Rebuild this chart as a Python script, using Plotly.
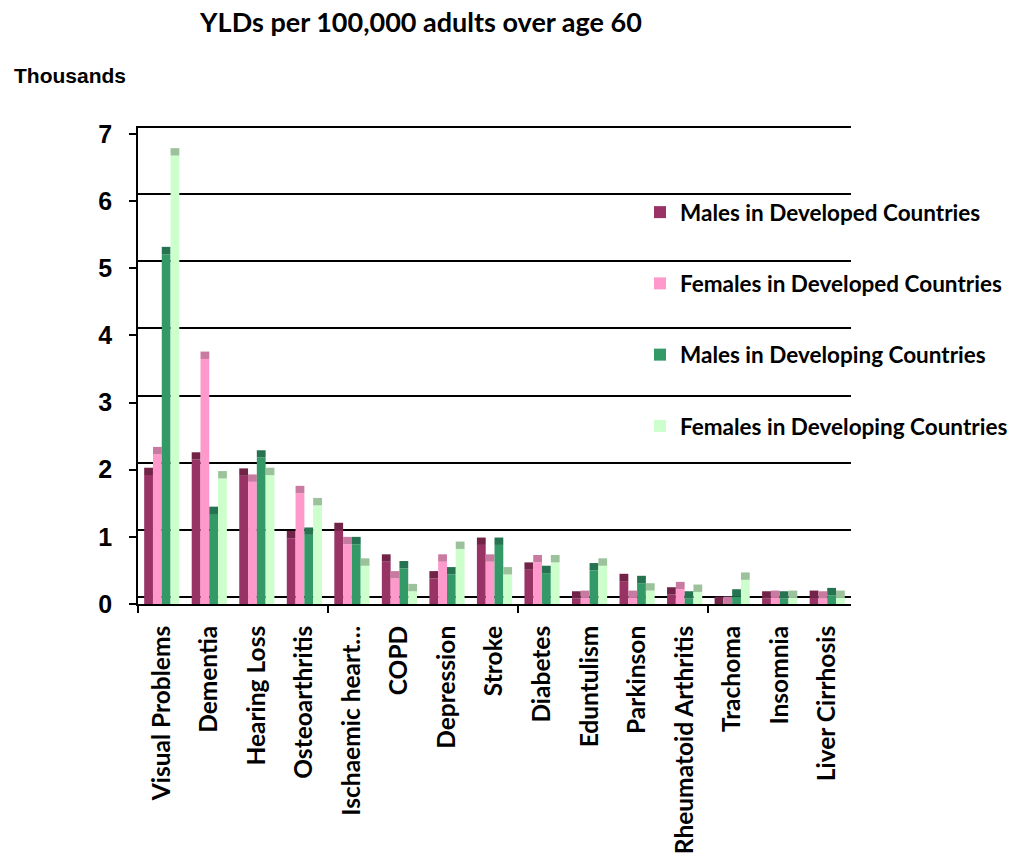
import plotly.graph_objects as go

categories = ["Visual Problems", "Dementia", "Hearing Loss", "Osteoarthritis",
              "Ischaemic heart…", "COPD", "Depression", "Stroke", "Diabetes",
              "Eduntulism", "Parkinson", "Rheumatoid Arthritis", "Trachoma",
              "Insomnia", "Liver Cirrhosis"]

males_developed = [1.92, 2.15, 1.91, 0.98, 1.10, 0.63, 0.38, 0.88, 0.51,
                   0.08, 0.34, 0.14, 0.00, 0.08, 0.09]
females_developed = [2.23, 3.65, 1.82, 1.65, 0.89, 0.38, 0.63, 0.63, 0.62,
                     0.09, 0.09, 0.22, 0.00, 0.09, 0.08]
males_developing = [5.21, 1.34, 2.18, 1.03, 0.89, 0.53, 0.44, 0.88, 0.46,
                    0.50, 0.31, 0.08, 0.11, 0.08, 0.13]
females_developing = [6.68, 1.87, 1.92, 1.47, 0.57, 0.19, 0.82, 0.44, 0.62,
                      0.57, 0.20, 0.18, 0.36, 0.09, 0.09]

series_names = ["Males in Developed Countries", "Females in Developed Countries",
                "Males in Developing Countries", "Females in Developing Countries"]
series_values = [males_developed, females_developed, males_developing, females_developing]
face_colors = ["#993366", "#FF99CC", "#339966", "#CCFFCC"]
cap_colors = ["#722448", "#C97AA0", "#257350", "#9CC29C"]
cap_height = 0.11

y_ticks = [0, 1, 2, 3, 4, 5, 6, 7]
group_tick_positions = [-0.5, 3.5, 7.5, 11.5]

x_idx = list(range(len(categories)))

W, H = 1018, 857
PL, PR, PT, PB = 138, 851, 126, 604   # plot area in page pixels

fig = go.Figure()
for i, (name, vals) in enumerate(zip(series_names, series_values)):
    fig.add_trace(go.Bar(
        x=x_idx, y=vals, name="<b>%s</b>" % name, offsetgroup=str(i), legendgroup=str(i),
        marker=dict(color=face_colors[i], line=dict(width=0)),
        xaxis="x", yaxis="y", hoverinfo="skip",
    ))
    fig.add_trace(go.Bar(
        x=x_idx, y=[cap_height] * len(vals), base=vals, offsetgroup=str(i),
        legendgroup=str(i), showlegend=False,
        marker=dict(color=cap_colors[i], line=dict(width=0)),
        xaxis="x", yaxis="y", hoverinfo="skip",
    ))

fig.add_trace(go.Scatter(x=[0], y=[0], xaxis="x2", yaxis="y2", mode="markers",
                         marker=dict(opacity=0), showlegend=False, hoverinfo="skip"))

tick_font = dict(family="Liberation Sans, Arial", size=25, color="black")
cat_font = dict(family="Lato", size=24.5, color="black")

pw, ph = PR - PL, PB - PT

fig.update_layout(
    width=W, height=H,
    margin=dict(l=PL, r=W - PR, t=PT, b=H - PB, autoexpand=False),
    paper_bgcolor="white", plot_bgcolor="rgba(0,0,0,0)",
    barmode="group", bargap=0.26, bargroupgap=0,
    title=dict(text="<b>YLDs per 100,000 adults over age 60</b>",
               font=dict(family="Lato", size=27, color="black"),
               xref="container", x=421 / W, xanchor="center",
               yref="container", y=1 - 23 / H, yanchor="middle"),
    xaxis=dict(range=[-0.5, 14.5], tickmode="array", tickvals=x_idx,
               ticktext=["<b>%s</b>" % c for c in categories], tickangle=-90,
               tickfont=cat_font, ticks="", ticklabelstandoff=10, automargin=False,
               showgrid=False, zeroline=False,
               showline=True, linecolor="black", linewidth=2, fixedrange=True),
    xaxis2=dict(range=[-0.5, 14.5], overlaying="x", anchor="y", side="bottom",
                tickmode="array", tickvals=group_tick_positions, ticktext=[""] * 4,
                ticks="outside", ticklen=8, tickwidth=1.5, tickcolor="black",
                automargin=False, showgrid=False, zeroline=False, showline=False),
    yaxis=dict(range=[0, 7.12], tickmode="array", tickvals=y_ticks,
               ticktext=["<b>%d</b>" % v for v in y_ticks], tickfont=tick_font,
               ticks="outside", ticklen=7, tickwidth=1.5, tickcolor="black",
               ticklabelstandoff=12, automargin=False, showgrid=False, zeroline=False,
               showline=True, linecolor="black", linewidth=1.5),
    yaxis2=dict(range=[-0.104, 7.016], overlaying="y", anchor="x", side="left",
                tickvals=y_ticks, showticklabels=False, ticks="", automargin=False,
                showgrid=True, gridcolor="black", gridwidth=2,
                zeroline=False, showline=False),
    legend=dict(x=(640 - PL) / pw, xanchor="left", y=1 - (191 - PT) / ph,
                yanchor="top", traceorder="grouped", tracegroupgap=39,
                font=dict(family="Lato", size=22.5, color="black"),
                bgcolor="rgba(0,0,0,0)"),
    showlegend=True,
)

fig.add_annotation(text="<b>Thousands</b>", xref="paper", yref="paper",
                   x=-(PL - 12) / pw, xanchor="left",
                   y=1 + (PT - 75) / ph, yanchor="middle", showarrow=False,
                   font=dict(family="Liberation Sans, Arial", size=21, color="black"))

fig.write_html("out.html", config={"displayModeBar": False},
               post_script="document.body.style.margin='0';")
